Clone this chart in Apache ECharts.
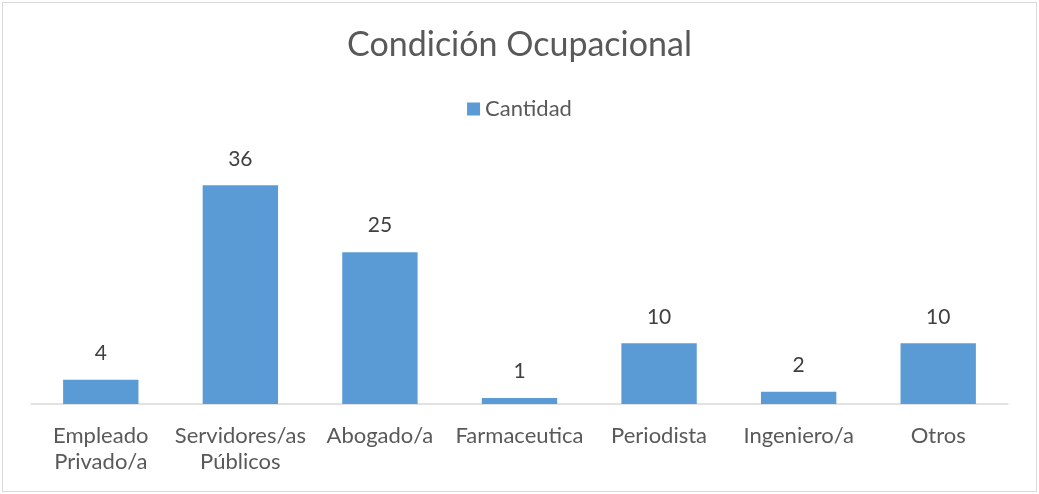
<!DOCTYPE html>
<html>
<head>
<meta charset="utf-8">
<script src="https://cdn.jsdelivr.net/npm/echarts@6/dist/echarts.min.js"></script>
<style>
  html, body { margin: 0; padding: 0; background: #fff; }
  #main { position: absolute; left: 2px; top: 2px; width: 1033px; height: 488px; border: 1px solid #d9d9d9; }
</style>
</head>
<body>
<div id="main"></div>
<script>
const categories = ['Empleado\nPrivado/a', 'Servidores/as\nPúblicos', 'Abogado/a', 'Farmaceutica', 'Periodista', 'Ingeniero/a', 'Otros'];
const cantidad = [4, 36, 25, 1, 10, 2, 10];

let myChart = echarts.init(document.getElementById('main'));
myChart.setOption({
  animation: false,
  textStyle: { fontFamily: 'Lato' },
  title: {
    text: 'Condición Ocupacional',
    left: 'center',
    top: 20,
    textStyle: { fontFamily: 'Lato', fontSize: 34, fontWeight: 'normal', color: '#595959' }
  },
  legend: {
    top: 90,
    left: 'center',
    itemWidth: 13,
    itemHeight: 13,
    icon: 'rect',
    itemGap: 5,
    textStyle: { fontFamily: 'Lato', fontSize: 22, color: '#595959' },
    data: ['Cantidad']
  },
  grid: { left: 28, right: 28, top: 158, bottom: 87 },
  xAxis: {
    type: 'category',
    data: categories,
    axisLine: { lineStyle: { color: '#d9d9d9', width: 1.5 } },
    axisTick: { show: false },
    axisLabel: { fontFamily: 'Lato', fontSize: 22, color: '#595959', lineHeight: 26, margin: 19, interval: 0 }
  },
  yAxis: {
    type: 'value',
    min: 0,
    max: 40,
    show: false,
    splitLine: { show: false }
  },
  series: [{
    name: 'Cantidad',
    type: 'bar',
    data: cantidad,
    barWidth: '54%',
    itemStyle: { color: '#5b9bd5' },
    label: { show: true, position: 'top', distance: 16, fontFamily: 'Lato', fontSize: 21, color: '#404040' }
  }]
});
</script>
</body>
</html>
